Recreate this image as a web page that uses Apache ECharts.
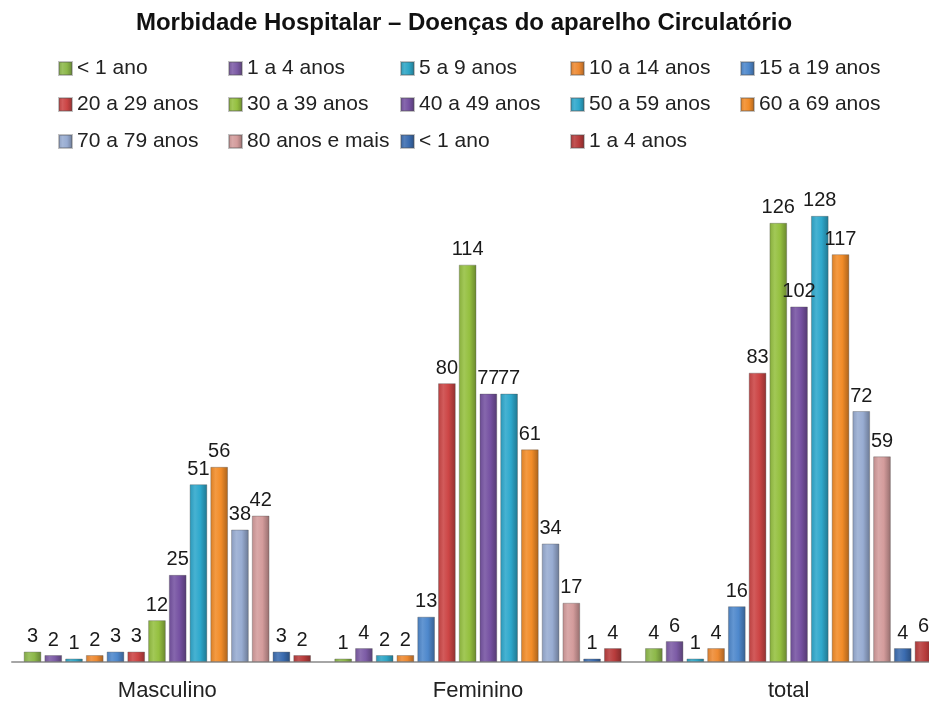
<!DOCTYPE html>
<html>
<head>
<meta charset="utf-8">
<script src="https://cdn.jsdelivr.net/npm/echarts@6/dist/echarts.min.js"></script>
<style>html,body{margin:0;padding:0;background:#fff;overflow:hidden;width:929px;height:704px;}#c{width:944px;height:704px;}</style>
</head>
<body>
<div id="c"></div>
<script>
var categories = ['Masculino', 'Feminino', 'total'];
var seriesNames = ['< 1 ano', '1 a 4 anos', '5 a 9 anos', '10 a 14 anos', '15 a 19 anos',
  '20 a 29 anos', '30 a 39 anos', '40 a 49 anos', '50 a 59 anos', '60 a 69 anos',
  '70 a 79 anos', '80 anos e mais', '< 1 ano', '1 a 4 anos'];
var valuesMasculino = [3, 2, 1, 2, 3, 3, 12, 25, 51, 56, 38, 42, 3, 2];
var valuesFeminino  = [1, 4, 2, 2, 13, 80, 114, 77, 77, 61, 34, 17, 1, 4];
var valuesTotal     = [4, 6, 1, 4, 16, 83, 126, 102, 128, 117, 72, 59, 4, 6];
var seriesColors = ['#8DB84A', '#7D5CA6', '#2FA6C6', '#EE8A32', '#4E88CC', '#CC4545',
  '#95C040', '#7652A2', '#2EA8CC', '#F28C28', '#98ACD2', '#D49C9C', '#3B6CB0', '#B83C3C'];

function shade(hex, amt) {
  var n = parseInt(hex.slice(1), 16);
  var r = (n >> 16) & 255, g = (n >> 8) & 255, b = n & 255;
  function f(v) { return Math.max(0, Math.min(255, Math.round(amt >= 0 ? v + (255 - v) * amt : v * (1 + amt)))); }
  return 'rgb(' + f(r) + ',' + f(g) + ',' + f(b) + ')';
}
function grad(c) {
  return new echarts.graphic.LinearGradient(0, 0, 1, 0, [
    { offset: 0, color: shade(c, -0.1) },
    { offset: 0.3, color: shade(c, 0.12) },
    { offset: 0.6, color: c },
    { offset: 1, color: shade(c, -0.3) }
  ]);
}

var chart = echarts.init(document.getElementById('c'));
var FONT = 'Liberation Sans';
// unique internal names so duplicate legend labels keep their own colours
var ids = seriesNames.map(function (n, i) { return i >= 12 ? n + '\u200B' : n; });
var legendLefts = [58, 228, 400, 570, 740];
var legendTops = [58, 94, 131];
var legends = ids.map(function (id, i) {
  return {
    left: legendLefts[i % 5],
    top: legendTops[Math.floor(i / 5)],
    padding: 0,
    itemWidth: 13,
    itemHeight: 13,
    icon: 'rect',
    data: [id],
    formatter: function (n) { return n.replace('\u200B', ''); },
    textStyle: { fontFamily: FONT, fontSize: 21, color: '#222' }
  };
});

var series = ids.map(function (id, i) {
  return {
    name: id,
    type: 'bar',
    barGap: '17%',
    barCategoryGap: '7.5%',
    data: [valuesMasculino[i], valuesFeminino[i], valuesTotal[i]],
    itemStyle: { color: grad(seriesColors[i]), borderColor: 'rgba(80,80,80,0.35)', borderWidth: 1 },
    label: {
      show: true, position: 'top', distance: 5,
      fontFamily: FONT, fontSize: 20, color: '#1a1a1a'
    }
  };
});

chart.setOption({
  animation: false,
  title: {
    text: 'Morbidade Hospitalar \u2013 Doen\u00e7as do aparelho Circulat\u00f3rio',
    left: 464, textAlign: 'center', top: 11, padding: 0,
    textStyle: { fontFamily: FONT, fontSize: 24, fontWeight: 'bold', color: '#111' }
  },
  legend: legends,
  grid: { left: 12, right: 0, top: 174, bottom: 42, containLabel: false },
  xAxis: {
    type: 'category',
    data: categories,
    axisTick: { show: false },
    axisLine: { lineStyle: { color: '#A6A6A6', width: 2 } },
    axisLabel: { fontFamily: FONT, fontSize: 22, color: '#222', margin: 18 }
  },
  yAxis: { type: 'value', min: 0, max: 140, show: false, splitLine: { show: false } },
  series: series
});
</script>
</body>
</html>
